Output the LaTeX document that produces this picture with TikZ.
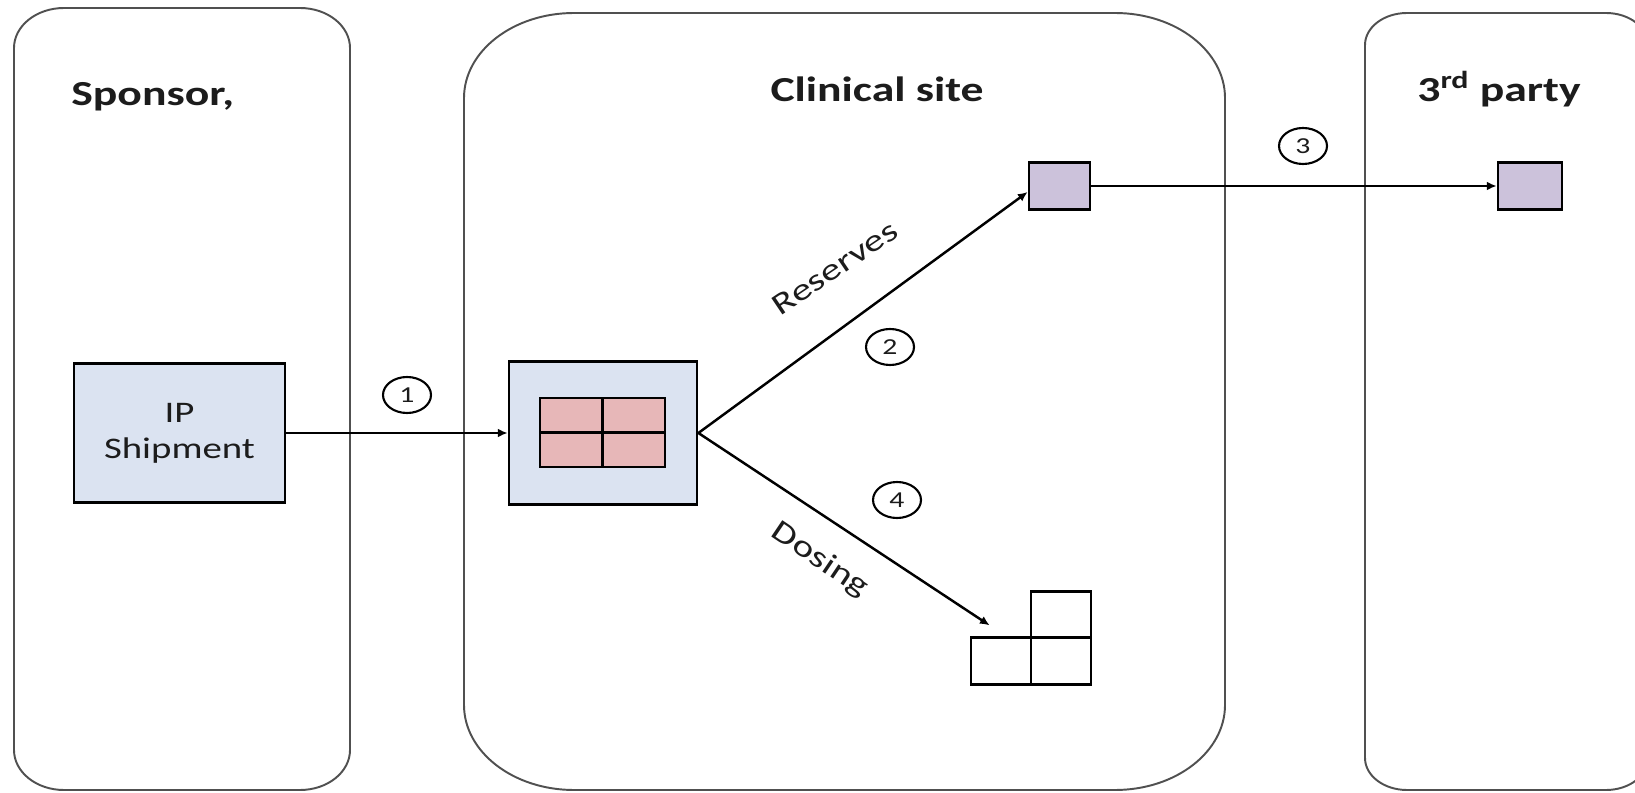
\documentclass[tikz,border=0pt]{standalone}
\usepackage{fontspec}
\setmainfont{Carlito}[FakeStretch=1.3]
\usetikzlibrary{arrows.meta,shapes.geometric}

\definecolor{boxblue}{RGB}{219,227,241}
\definecolor{cellpink}{RGB}{231,183,184}
\definecolor{lilac}{RGB}{204,194,219}
\definecolor{lanegray}{RGB}{80,80,80}
\definecolor{ink}{RGB}{28,28,28}

% swim lane with elliptical corners: x1 y1 x2 y2 rx ry
\newcommand\lanepath[6]{%
  \draw[lane] ({#1+#5},#2) -- ({#3-#5},#2)
    arc[start angle=270,end angle=360,x radius=#5,y radius=#6]
    -- (#3,{#4-#6})
    arc[start angle=0,end angle=90,x radius=#5,y radius=#6]
    -- ({#1+#5},#4)
    arc[start angle=90,end angle=180,x radius=#5,y radius=#6]
    -- (#1,{#2+#6})
    arc[start angle=180,end angle=270,x radius=#5,y radius=#6] -- cycle;}

\tikzset{
  lane/.style={draw=lanegray, line width=1.1pt},
  title/.style={font=\fontsize{20}{24}\selectfont\bfseries, text=ink, inner sep=0pt},
  bluebox/.style={draw=black, line width=1.6pt, fill=boxblue, inner sep=0pt,
    align=center, text=ink, font=\fontsize{17}{20.5}\selectfont},
  lilacbox/.style={draw=black, line width=1.6pt, fill=lilac, inner sep=0pt,
    minimum height=0.95cm},
  emptycell/.style={draw=black, line width=1.6pt, fill=white, inner sep=0pt,
    minimum width=1.2cm, minimum height=0.93cm},
  tag/.style={ellipse, draw=black, line width=1.2pt, inner sep=0pt,
    minimum width=0.96cm, minimum height=0.72cm, text=ink,
    font=\fontsize{13}{13}\selectfont},
  edgelabel/.style={text=ink, inner sep=0pt, font=\fontsize{17.5}{20}\selectfont},
  flow/.style={draw=black, line width=1.4pt, -{Latex[length=5.5pt,width=5pt]}},
}

\begin{document}
\begin{tikzpicture}[x=0.02cm, y=-0.02cm]
  \useasboundingbox (0,0) rectangle (1635,793);
  \fill[white] (0,0) rectangle (1635,793);
  \clip (0,0) rectangle (1635,793);

  % swim lanes
  \lanepath{14}{8}{350}{790}{50}{40}
  \lanepath{464}{13}{1225}{790}{110}{85}
  \lanepath{1365}{13}{1648}{790}{42}{32}

  % lane titles
  \node[title, anchor=base west] (tsponsor) at (71,106) {Sponsor,};
  \node[title, anchor=base] (tsite) at (877,102) {Clinical site};
  \node[title, anchor=base west] (tparty) at (1417,102) {3\textsuperscript{rd} party};

  % boxes
  \node[bluebox, minimum width=4.22cm, minimum height=2.78cm] (ip) at (179.5,433)
    {IP\\Shipment};
  \node[bluebox, minimum width=3.76cm, minimum height=2.86cm] (ctr) at (603,433) {};
  \node[lilacbox, minimum width=1.22cm] (res) at (1059.5,186) {};
  \node[lilacbox, minimum width=1.28cm] (tp) at (1530,186) {};

  % stock held at the site
  \draw[line width=1.6pt, fill=cellpink] (540,398) rectangle (665,467);
  \draw[line width=1.6pt] (602.5,398) -- (602.5,467);
  \draw[line width=1.6pt] (540,432.5) -- (665,432.5);

  % dispensed units
  \node[emptycell] (ur) at (1061,614.5) {};
  \node[emptycell] (dl) at (1001,661) {};
  \node[emptycell] (dr) at (1061,661) {};

  % connectors
  \draw[flow] (ip.east) -- (ctr.west);
  \draw[flow] (ctr.east) -- ([yshift=-0.12cm]res.west);
  \draw[flow] (res.east) -- (tp.west);
  \draw[flow] (ctr.east) -- ([xshift=0.4cm,yshift=0.22cm]dl.north west);

  % step numbers
  \node[tag] (n1) at (407,395) {1};
  \node[tag] (n2) at (890,347) {2};
  \node[tag] (n3) at (1303,146) {3};
  \node[tag] (n4) at (897,500) {4};

  % edge labels
  \node[edgelabel, rotate=34] (lres) at (835,268) {Reserves};
  \node[edgelabel, rotate=-34] (ldos) at (820,560) {Dosing};
\end{tikzpicture}
\end{document}
